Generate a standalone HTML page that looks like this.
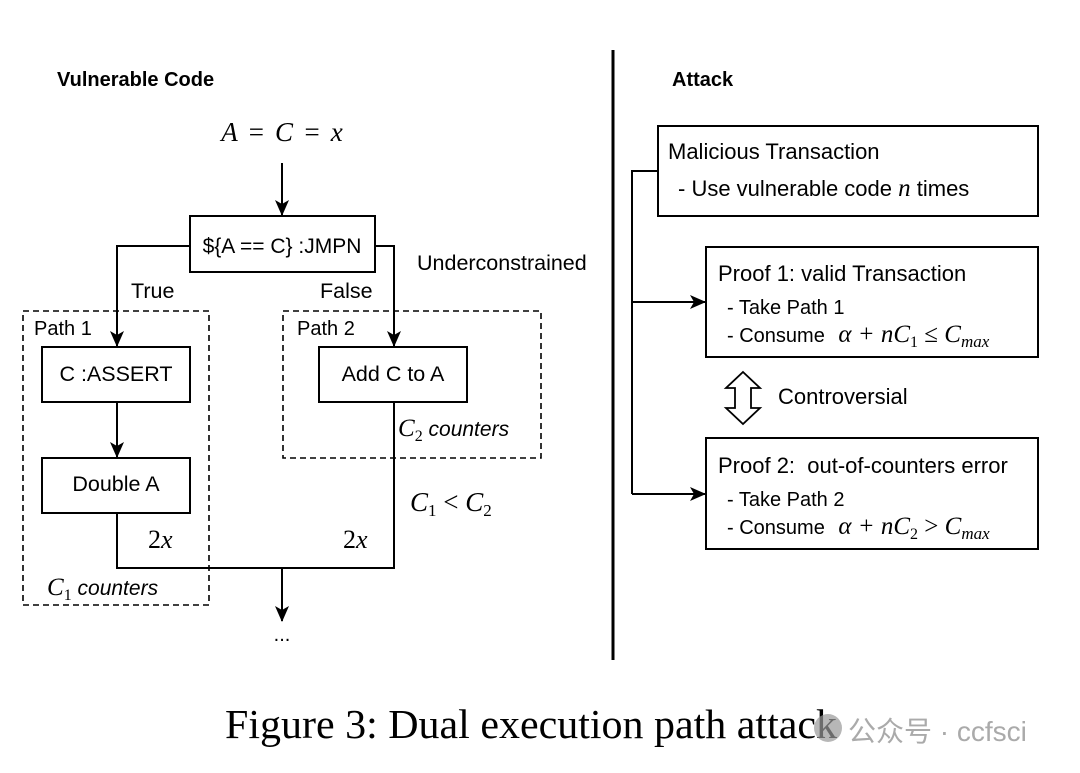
<!DOCTYPE html>
<html><head><meta charset="utf-8"><style>
body{margin:0;background:#fff;width:1080px;height:773px;overflow:hidden}
svg{display:block}
.s{font-family:"Liberation Sans",sans-serif;fill:#000}
.m{font-family:"Liberation Serif",serif;font-style:italic;fill:#000}
.r{font-family:"Liberation Serif",serif;fill:#000}
</style></head><body>
<svg width="1080" height="773" viewBox="0 0 1080 773">
<defs><marker id="a" markerWidth="16" markerHeight="14" refX="15" refY="7" orient="auto" markerUnits="userSpaceOnUse"><path d="M0,0 L16,7 L0,14 L4,7 z" fill="#000"/></marker></defs>
<g fill="none" stroke="#000" stroke-width="2">
<line x1="282" y1="163" x2="282" y2="215" marker-end="url(#a)"/>
<rect x="190" y="216" width="185" height="56"/>
<polyline points="190,246 117,246 117,346" marker-end="url(#a)"/>
<polyline points="375,246 394,246 394,346" marker-end="url(#a)"/>
<rect x="42" y="347" width="148" height="55"/>
<line x1="117" y1="402" x2="117" y2="457" marker-end="url(#a)"/>
<rect x="42" y="458" width="148" height="55"/>
<rect x="319" y="347" width="148" height="55"/>
<polyline points="117,513 117,568 394,568 394,402"/>
<line x1="282" y1="568" x2="282" y2="621" marker-end="url(#a)"/>
<rect x="23" y="311" width="186" height="294" stroke-dasharray="6,4" stroke-width="1.6"/>
<rect x="283" y="311" width="258" height="147" stroke-dasharray="6,4" stroke-width="1.6"/>
<line x1="613" y1="50" x2="613" y2="660" stroke-width="3"/>
<rect x="658" y="126" width="380" height="90"/>
<polyline points="658,171 632,171 632,494"/>
<line x1="632" y1="302" x2="705" y2="302" marker-end="url(#a)"/>
<line x1="632" y1="494" x2="705" y2="494" marker-end="url(#a)"/>
<rect x="706" y="247" width="332" height="110"/>
<rect x="706" y="438" width="332" height="111"/>
<path d="M743,372 L760,388 L751,388 L751,408 L760,408 L743,424 L726,408 L735,408 L735,388 L726,388 Z" stroke-width="1.8"/>
</g>
<text x="57" y="86" class="s" style="font-weight:bold;font-size:20px">Vulnerable Code</text>
<text x="672" y="86" class="s" style="font-weight:bold;font-size:20px">Attack</text>
<text x="282" y="141" class="m" text-anchor="middle" style="font-size:27px;word-spacing:3px">A = C = x</text>
<text x="282" y="253" class="s" text-anchor="middle" style="font-size:21px">${A == C} :JMPN</text>
<text x="417" y="270" class="s" style="font-size:21.5px">Underconstrained</text>
<text x="131" y="298" class="s" style="font-size:21.5px">True</text>
<text x="320" y="298" class="s" style="font-size:21.5px">False</text>
<text x="34" y="335" class="s" style="font-size:20px">Path 1</text>
<text x="297" y="335" class="s" style="font-size:20px">Path 2</text>
<text x="116" y="381" class="s" text-anchor="middle" style="font-size:21.5px">C :ASSERT</text>
<text x="393" y="381" class="s" text-anchor="middle" style="font-size:21.5px">Add C to A</text>
<text x="116" y="491" class="s" text-anchor="middle" style="font-size:21.5px">Double A</text>
<text x="398" y="436" class="m" style="font-size:25px">C<tspan style="font-size:16px;font-style:normal" dy="5">2</tspan><tspan dy="-5" style="font-family:'Liberation Sans';font-size:21px"> counters</tspan></text>
<text x="410" y="511" class="m" style="font-size:27px">C<tspan style="font-size:17px;font-style:normal" dy="5">1</tspan><tspan dy="-5" style="font-style:normal"> &lt; </tspan>C<tspan style="font-size:17px;font-style:normal" dy="5">2</tspan></text>
<text x="148" y="548" class="m" style="font-size:26px"><tspan style="font-style:normal">2</tspan>x</text>
<text x="343" y="548" class="m" style="font-size:26px"><tspan style="font-style:normal">2</tspan>x</text>
<text x="47" y="595" class="m" style="font-size:25px">C<tspan style="font-size:16px;font-style:normal" dy="5">1</tspan><tspan dy="-5" style="font-family:'Liberation Sans';font-size:21px"> counters</tspan></text>
<text x="282" y="641" class="s" text-anchor="middle" style="font-size:20px">...</text>
<text x="668" y="159" class="s" style="font-size:22px">Malicious Transaction</text>
<text x="678" y="196" class="s" style="font-size:22px">- Use vulnerable code <tspan class="m" style="font-size:25px">n</tspan> times</text>
<text x="718" y="281" class="s" style="font-size:22px">Proof 1: valid Transaction</text>
<text x="727" y="314" class="s" style="font-size:20px">- Take Path 1</text>
<text x="727" y="342" class="s" style="font-size:20px">- Consume <tspan dx="8" style="font-family:'Liberation Serif';font-style:italic;font-size:25px">α + nC</tspan><tspan dy="5" style="font-family:'Liberation Serif';font-size:16px">1</tspan><tspan dy="-5" style="font-family:'Liberation Serif';font-size:25px"> ≤ </tspan><tspan style="font-family:'Liberation Serif';font-style:italic;font-size:25px">C</tspan><tspan dy="5" style="font-family:'Liberation Serif';font-style:italic;font-size:17px">max</tspan></text>
<text x="778" y="404" class="s" style="font-size:22px">Controversial</text>
<text x="718" y="473" class="s" style="font-size:22px;white-space:pre" xml:space="preserve">Proof 2:  out-of-counters error</text>
<text x="727" y="506" class="s" style="font-size:20px">- Take Path 2</text>
<text x="727" y="534" class="s" style="font-size:20px">- Consume <tspan dx="8" style="font-family:'Liberation Serif';font-style:italic;font-size:25px">α + nC</tspan><tspan dy="5" style="font-family:'Liberation Serif';font-size:16px">2</tspan><tspan dy="-5" style="font-family:'Liberation Serif';font-size:25px"> &gt; </tspan><tspan style="font-family:'Liberation Serif';font-style:italic;font-size:25px">C</tspan><tspan dy="5" style="font-family:'Liberation Serif';font-style:italic;font-size:17px">max</tspan></text>
<text x="225" y="738" class="r" style="font-size:41px" textLength="612" lengthAdjust="spacingAndGlyphs">Figure 3: Dual execution path attack</text>
<circle cx="828" cy="728" r="14" fill="#999" opacity="0.7"/>
<text x="848" y="741" style="font-family:'Liberation Sans','Noto Sans CJK SC',sans-serif;font-size:28px;fill:#aaa">公众号 · ccfsci</text>
</svg>
</body></html>
